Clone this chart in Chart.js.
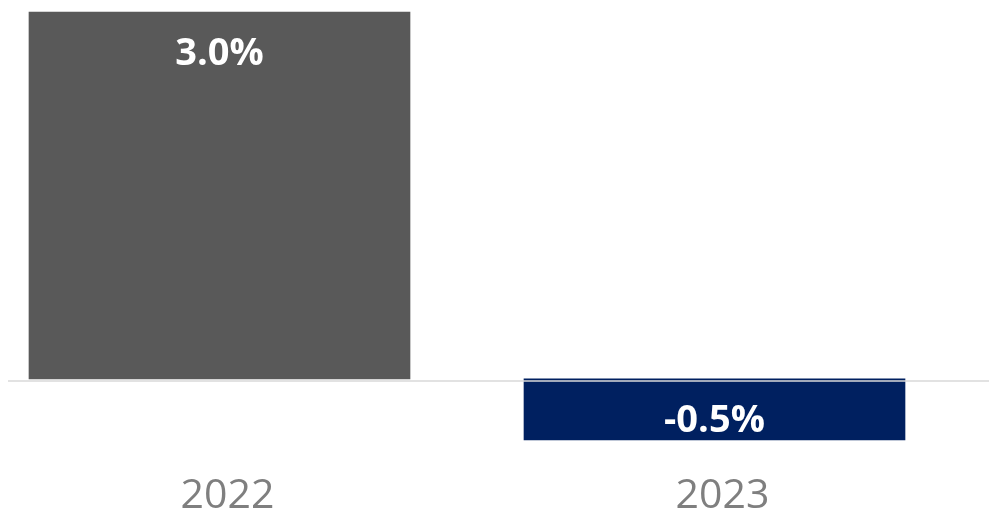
<!DOCTYPE html>
<html>
<head>
<meta charset="utf-8">
<script src="https://cdn.jsdelivr.net/npm/chart.js@4.4.1/dist/chart.umd.min.js"></script>
<style>
  html, body { margin: 0; padding: 0; background: #fff; }
  #wrap { width: 989px; height: 512px; position: relative; }
</style>
</head>
<body>
<div id="wrap"><canvas id="chart-growth"></canvas></div>
<script>
// yearly change, percent
const years = ['2022', '2023'];
const growth = [3.0, -0.5];
const barColors = ['#595959', '#002060'];

// light rule across the whole width at zero, drawn over the bars
const zeroLine = {
    id: 'zeroLine',
    afterDatasetsDraw(chart) {
        const {ctx, width, scales: {y}} = chart;
        const py = Math.round(y.getPixelForValue(0)) + 2;
        ctx.save();
        ctx.strokeStyle = '#d9d9d9';
        ctx.lineWidth = 1.5;
        ctx.beginPath();
        ctx.moveTo(8, py);
        ctx.lineTo(width, py);
        ctx.stroke();
        ctx.restore();
    }
};

// white value labels inside the end of each bar
const valueLabels = {
    id: 'valueLabels',
    afterDatasetsDraw(chart) {
        const {ctx} = chart;
        const meta = chart.getDatasetMeta(0);
        ctx.save();
        ctx.fillStyle = '#ffffff';
        ctx.font = 'bold 38px "Open Sans"';
        ctx.textAlign = 'center';
        ctx.textBaseline = 'middle';
        meta.data.forEach((bar, i) => {
            const v = growth[i];
            const y = v >= 0 ? bar.y + 42 : bar.y - 19;
            ctx.fillText(v.toFixed(1) + '%', bar.x, y);
        });
        ctx.restore();
    }
};

new Chart(document.getElementById('chart-growth').getContext('2d'), {
    type: 'bar',
    data: {
        labels: years,
        datasets: [{
            data: growth,
            backgroundColor: barColors,
            borderWidth: 0,
            barThickness: 381,
            clip: false
        }]
    },
    options: {
        responsive: true,
        maintainAspectRatio: false,
        animation: false,
        layout: {padding: {top: 12, bottom: 0, left: 219.5, right: 274.5}},
        plugins: {legend: {display: false}, tooltip: {enabled: false}},
        scales: {
            x: {
                offset: false,
                grid: {display: false, drawTicks: false},
                border: {display: false},
                ticks: {
                    color: '#7f7f7f',
                    font: {family: 'Open Sans', size: 41},
                    padding: 32,
                    labelOffset: 8,
                    maxRotation: 0
                },
                afterFit(scale) {
                    scale.paddingLeft = 0;
                    scale.paddingRight = 0;
                    scale.height = 72;
                }
            },
            y: {
                display: false,
                min: -0.5,
                max: 3.0
            }
        }
    },
    plugins: [zeroLine, valueLabels]
});
</script>
</body>
</html>
